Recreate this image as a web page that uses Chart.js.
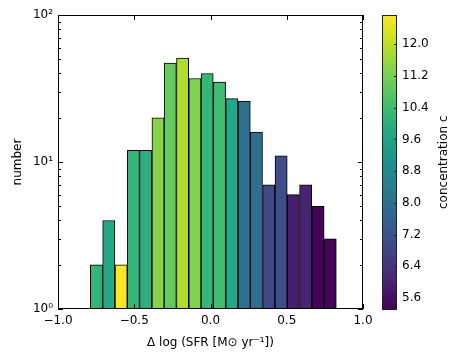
<!DOCTYPE html>
<html>
<head>
<meta charset="utf-8">
<script src="https://cdn.jsdelivr.net/npm/chart.js@4.4.1/dist/chart.umd.min.js"></script>
<style>
  html, body { margin: 0; padding: 0; background: #fff; }
  #wrap { position: relative; width: 458px; height: 358px; }
  #main { position: absolute; left: 0; top: 0; }
  #cbar { position: absolute; left: 370px; top: 0; }
</style>
</head>
<body>
<div id="wrap">
  <canvas id="main" width="458" height="358"></canvas>
  <canvas id="cbar" width="88" height="358"></canvas>
</div>
<script>
// histogram bins (centres), counts and mean concentration per bin
const binCentres = [-0.748, -0.667, -0.586, -0.506, -0.425, -0.344, -0.264, -0.183, -0.102, -0.022,
                    0.059, 0.140, 0.221, 0.301, 0.382, 0.463, 0.543, 0.624, 0.705, 0.785];
const counts = [2, 4, 2, 12, 12, 20, 47, 51, 37, 40,
                35, 27, 26, 16, 7, 11, 6, 7, 5, 3];
const concentration = [10.14, 9.77, 12.74, 10.18, 9.99, 11.40, 10.96, 11.85, 11.33, 10.18,
                       10.44, 9.77, 8.06, 8.02, 6.94, 7.06, 5.90, 6.05, 5.38, 5.42];

const xTicks = [-1.0, -0.5, 0.0, 0.5, 1.0];
const yTicks = [1, 10, 100];
const yTickLabels = ['10⁰', '10¹', '10²'];
const yMinorTicks = [2, 3, 4, 5, 6, 7, 8, 9, 20, 30, 40, 50, 60, 70, 80, 90];

const cMin = 5.31;
const cMax = 12.74;
const cbTicks = [5.6, 6.4, 7.2, 8.0, 8.8, 9.6, 10.4, 11.2, 12.0];

const viridis = ['#440154', '#482475', '#414487', '#355f8d', '#2a788e', '#21918c',
                 '#22a884', '#44bf70', '#7ad151', '#bddf26', '#fde725'];

function hexRgb(h) {
  return [parseInt(h.slice(1, 3), 16), parseInt(h.slice(3, 5), 16), parseInt(h.slice(5, 7), 16)];
}
function viridisAt(t) {
  t = Math.min(1, Math.max(0, t));
  const f = t * (viridis.length - 1);
  const i = Math.min(viridis.length - 2, Math.floor(f));
  const u = f - i;
  const a = hexRgb(viridis[i]), b = hexRgb(viridis[i + 1]);
  const c = a.map((v, k) => Math.round(v + (b[k] - v) * u));
  return `rgb(${c[0]},${c[1]},${c[2]})`;
}

Chart.defaults.font.family = 'DejaVu Sans';
Chart.defaults.font.size = 12;
Chart.defaults.color = '#000';
Chart.defaults.animation = false;

const minus = s => s.replace('-', '\u2212');

// inward ticks on all four sides + frame, like the matplotlib classic style
const insideTicks = {
  id: 'insideTicks',
  afterDatasetsDraw(chart) {
    const { ctx, chartArea: a, scales: { x, y } } = chart;
    ctx.save();
    ctx.strokeStyle = '#000';
    ctx.lineWidth = 1;
    ctx.beginPath();
    xTicks.forEach(v => {
      const px = Math.round(x.getPixelForValue(v)) + 0.5;
      ctx.moveTo(px, a.bottom); ctx.lineTo(px, a.bottom - 5);
      ctx.moveTo(px, a.top); ctx.lineTo(px, a.top + 5);
    });
    yTicks.forEach(v => {
      const py = Math.round(y.getPixelForValue(v)) + 0.5;
      ctx.moveTo(a.left, py); ctx.lineTo(a.left + 5, py);
      ctx.moveTo(a.right, py); ctx.lineTo(a.right - 5, py);
    });
    yMinorTicks.forEach(v => {
      const py = Math.round(y.getPixelForValue(v)) + 0.5;
      ctx.moveTo(a.left, py); ctx.lineTo(a.left + 3, py);
      ctx.moveTo(a.right, py); ctx.lineTo(a.right - 3, py);
    });
    ctx.stroke();
    ctx.strokeRect(Math.round(a.left) + 0.5, Math.round(a.top) + 0.5,
                   Math.round(a.width) - 1, Math.round(a.height) - 1);
    ctx.restore();
  }
};

new Chart(document.getElementById('main'), {
  type: 'bar',
  data: {
    datasets: [{
      data: binCentres.map((c, i) => ({ x: c, y: counts[i] })),
      backgroundColor: concentration.map(c => viridisAt((c - cMin) / (cMax - cMin))),
      borderColor: '#000',
      borderWidth: 1,
      barPercentage: 1,
      categoryPercentage: 1
    }]
  },
  options: {
    responsive: false,
    devicePixelRatio: 1,
    layout: { padding: { left: 0, top: 15, right: 95, bottom: 0 } },
    plugins: { legend: { display: false }, tooltip: { enabled: false } },
    scales: {
      x: {
        type: 'linear',
        min: -1, max: 1,
        offset: false,
        grid: { display: false, drawTicks: false, offset: false },
        border: { display: false },
        afterBuildTicks: sc => { sc.ticks = xTicks.map(v => ({ value: v })); },
        afterFit: sc => { sc.height = 49; },
        ticks: {
          padding: 5, maxRotation: 0, autoSkip: false,
          font: { size: 12 },
          callback: v => minus(v.toFixed(1))
        },
        title: {
          display: true,
          text: 'Δ log (SFR [M⊙ yr⁻¹])',
          font: { size: 12 },
          padding: { top: 2, bottom: 8 }
        }
      },
      y: {
        type: 'logarithmic',
        min: 1, max: 100,
        grid: { display: false, drawTicks: false },
        border: { display: false },
        afterBuildTicks: sc => { sc.ticks = yTicks.map(v => ({ value: v })); },
        afterFit: sc => { sc.width = 58; },
        ticks: {
          padding: 5,
          font: { size: 12 },
          callback: (v, i) => yTickLabels[yTicks.indexOf(v)]
        },
        title: {
          display: true,
          text: 'number',
          font: { size: 12 },
          padding: { top: 11, bottom: 0 }
        }
      }
    }
  },
  plugins: [insideTicks]
});

// colour bar
const cbarDecor = {
  id: 'cbarDecor',
  afterDatasetsDraw(chart) {
    const { ctx, chartArea: a, scales: { y } } = chart;
    ctx.save();
    ctx.strokeStyle = '#222';
    ctx.lineWidth = 1;
    ctx.beginPath();
    cbTicks.forEach(v => {
      const py = Math.round(y.getPixelForValue(v)) + 0.5;
      ctx.moveTo(a.right, py); ctx.lineTo(a.right - 3, py);
    });
    ctx.stroke();
    ctx.strokeRect(Math.round(a.left) + 0.5, Math.round(a.top) + 0.5,
                   Math.round(a.width) - 1, Math.round(a.height) - 1);
    ctx.translate(74, (a.top + a.bottom) / 2);
    ctx.rotate(-Math.PI / 2);
    ctx.fillStyle = '#000';
    ctx.font = '12px "DejaVu Sans"';
    ctx.textAlign = 'center';
    ctx.textBaseline = 'middle';
    ctx.fillText('concentration c', 0, 0);
    ctx.restore();
  }
};

new Chart(document.getElementById('cbar'), {
  type: 'bar',
  data: {
    labels: ['c'],
    datasets: [{
      data: [[cMin, cMax]],
      backgroundColor: ctx => {
        const { chart } = ctx;
        if (!chart.chartArea) return viridis[5];
        const y = chart.scales.y;
        const g = chart.ctx.createLinearGradient(0, y.getPixelForValue(cMin), 0, y.getPixelForValue(cMax));
        viridis.forEach((c, i) => g.addColorStop(i / (viridis.length - 1), c));
        return g;
      },
      borderWidth: 0,
      barPercentage: 1,
      categoryPercentage: 1
    }]
  },
  options: {
    responsive: false,
    devicePixelRatio: 1,
    layout: { padding: { left: 12, top: 15, right: 0, bottom: 48.5 } },
    plugins: { legend: { display: false }, tooltip: { enabled: false } },
    scales: {
      x: { display: false },
      y: {
        min: cMin, max: cMax,
        position: 'right',
        grid: { display: false, drawTicks: false },
        border: { display: false },
        afterBuildTicks: sc => { sc.ticks = cbTicks.map(v => ({ value: v })); },
        afterFit: sc => { sc.width = 61; },
        ticks: { padding: 5, font: { size: 12 }, callback: v => v.toFixed(1) }
      }
    }
  },
  plugins: [cbarDecor]
});
</script>
</body>
</html>
